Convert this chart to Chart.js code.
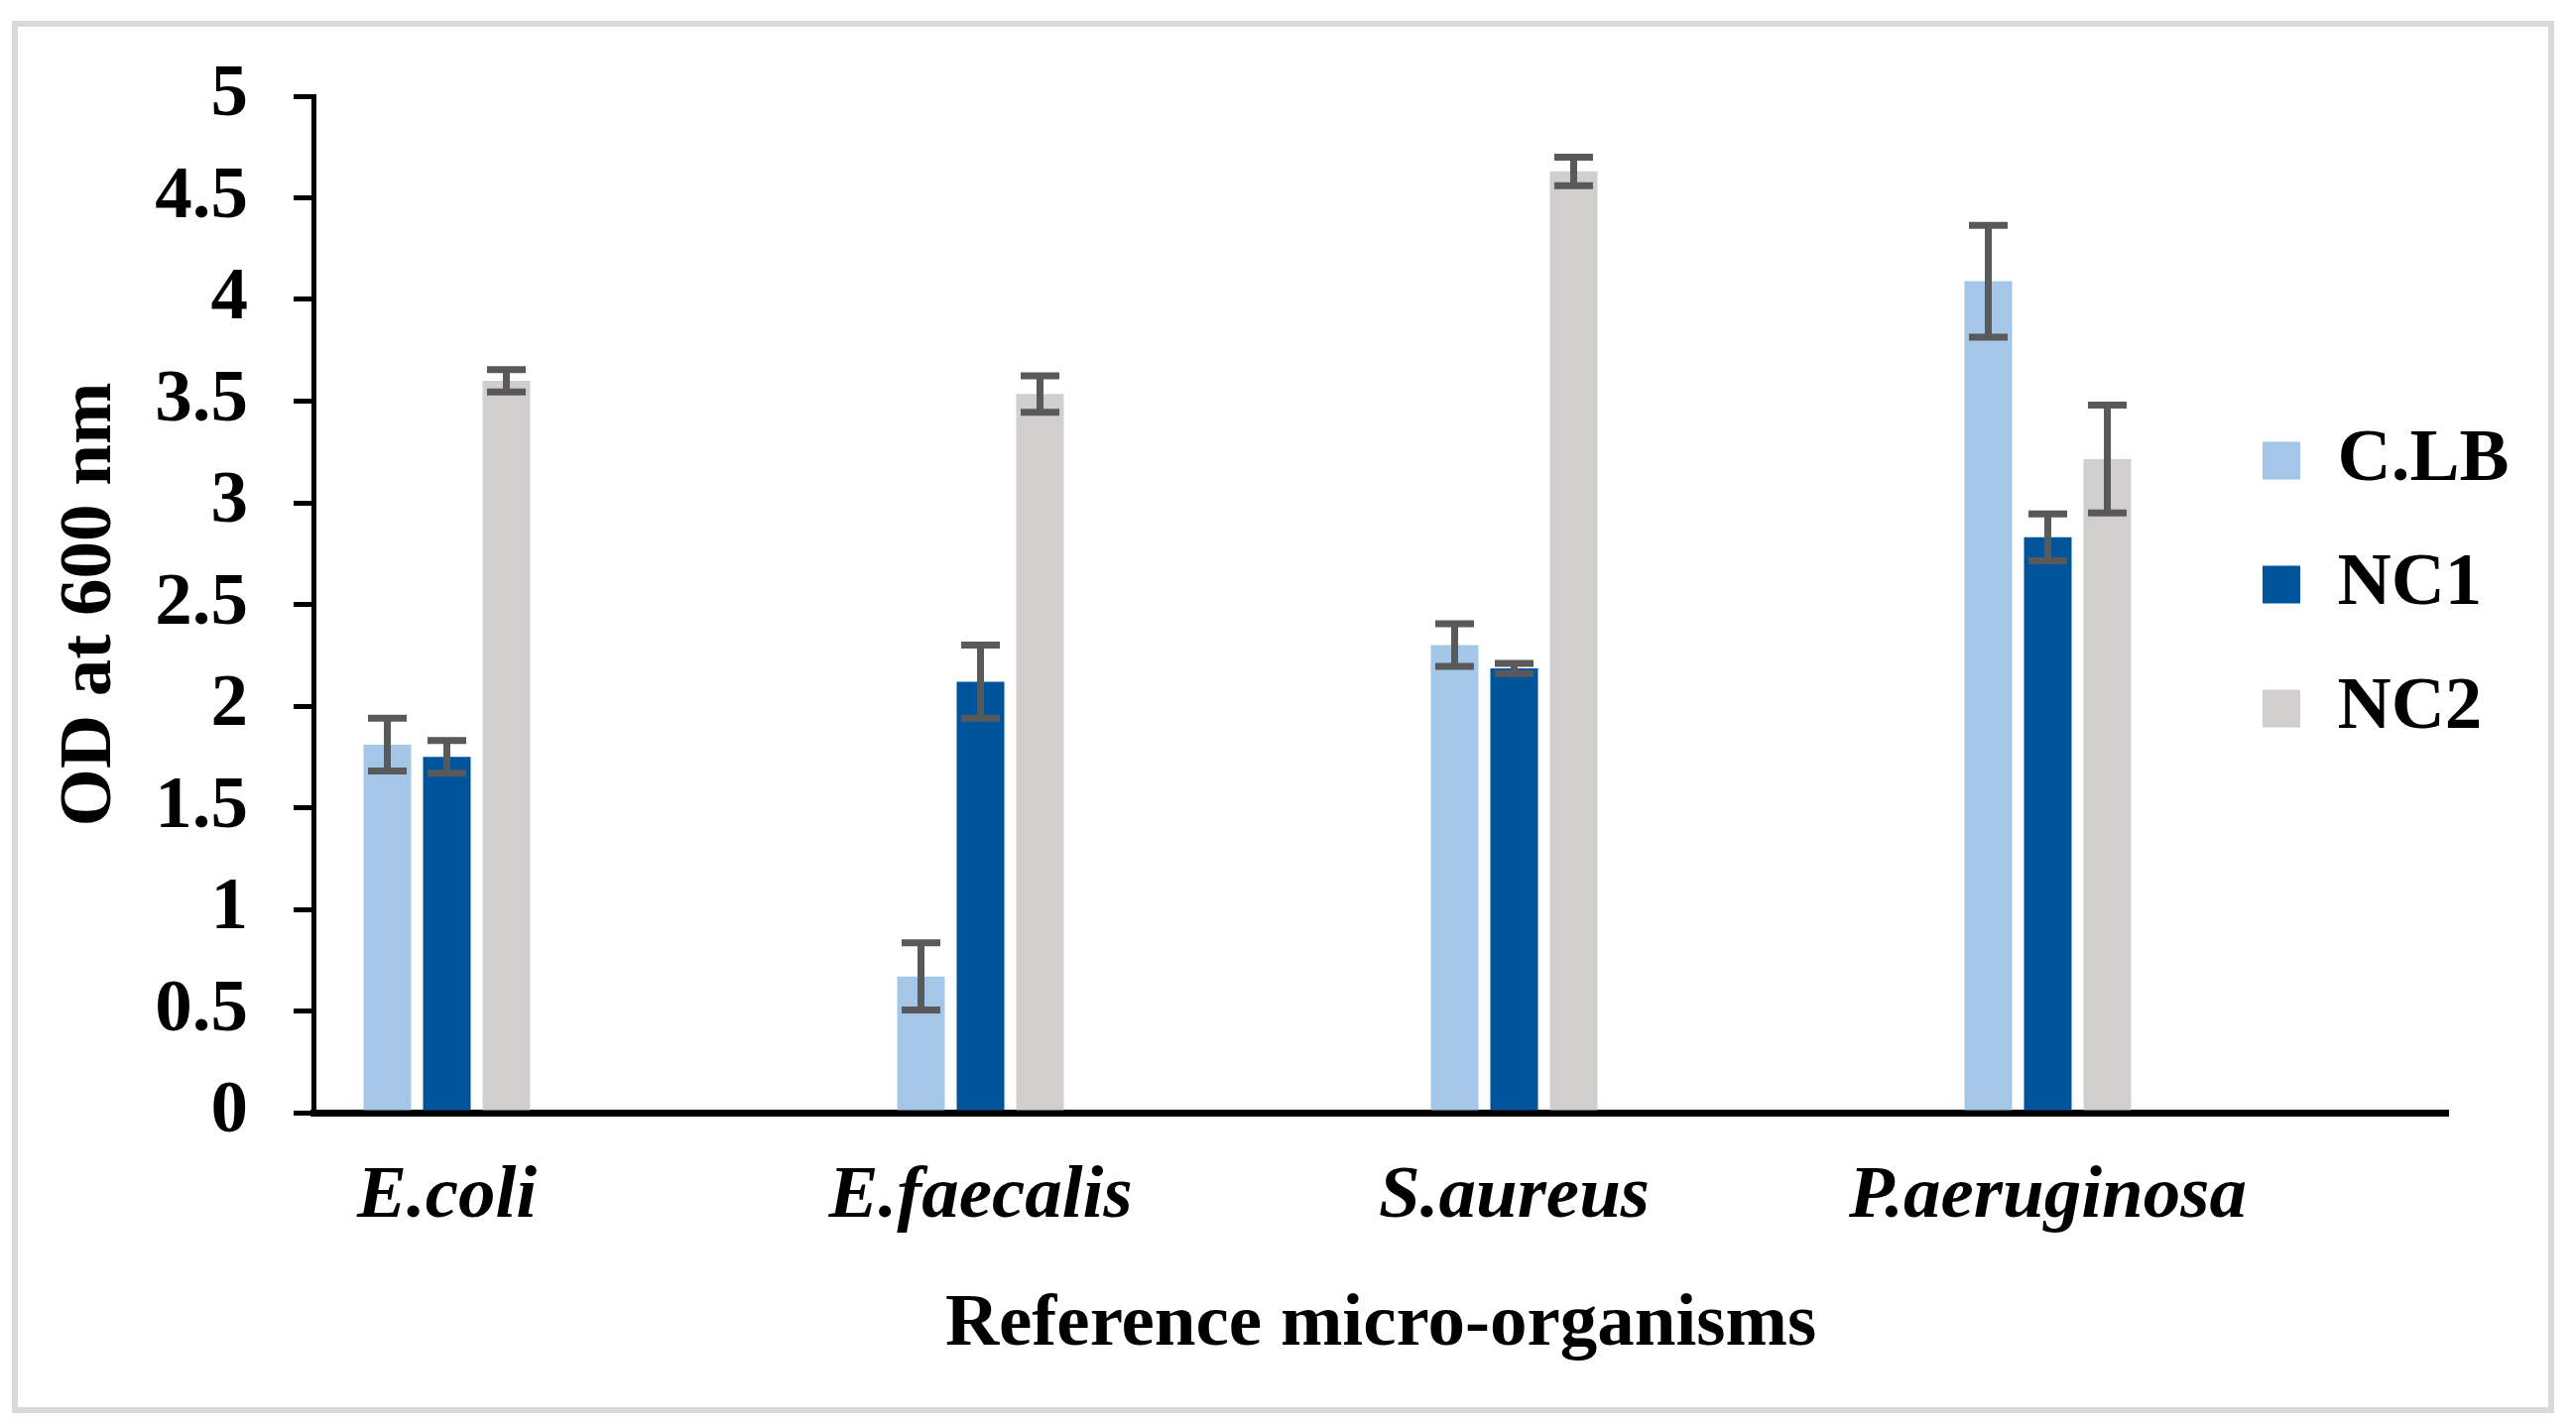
<!DOCTYPE html>
<html>
<head>
<meta charset="utf-8">
<title>OD at 600 nm</title>
<script src="https://cdn.jsdelivr.net/npm/chart.js@4.4.1/dist/chart.umd.min.js"></script>
<style>
    html, body { margin: 0; padding: 0; background: #fff; }
    #wrap { position: relative; width: 2597px; height: 1437px; }
    #odChart { position: absolute; left: 0; top: 0; width: 2597px; height: 1437px; }
    #frame {
        position: absolute; left: 12px; top: 21px; width: 2563px; height: 1404px;
        box-sizing: border-box; border: 6px solid #d9d9d9; pointer-events: none;
    }
</style>
</head>
<body>
<div id="wrap">
    <canvas id="odChart" width="2597" height="1437"></canvas>
    <div id="frame"></div>
</div>
<script>
// values
const categories = ['E.coli', 'E.faecalis', 'S.aureus', 'P.aeruginosa'];
const seriesNames = ['C.LB', 'NC1', 'NC2'];
const clbValues = [1.81, 0.67, 2.30, 4.09];
const clbErrors = [0.13, 0.165, 0.105, 0.275];
const nc1Values = [1.75, 2.12, 2.185, 2.83];
const nc1Errors = [0.08, 0.18, 0.025, 0.115];
const nc2Values = [3.60, 3.535, 4.63, 3.215];
const nc2Errors = [0.055, 0.09, 0.07, 0.265];
const yTicks = [0, 0.5, 1, 1.5, 2, 2.5, 3, 3.5, 4, 4.5, 5];
const yTickLabels = ['0', '0.5', '1', '1.5', '2', '2.5', '3', '3.5', '4', '4.5', '5'];

const colors = ['#a4c7e8', '#00549b', '#d0cfcd'];
const serif = "'Liberation Serif', 'Times New Roman', serif";

Chart.defaults.font.family = serif;
Chart.defaults.color = '#000';

function toPoints(values) {
    return values.map((v, i) => ({ x: i, y: v }));
}

const errorBars = {
    id: 'errorBars',
    afterDatasetsDraw(chart) {
        const ctx = chart.ctx;
        const y = chart.scales.y;
        ctx.save();
        ctx.strokeStyle = '#595959';
        ctx.lineWidth = 7;
        chart.data.datasets.forEach((ds, di) => {
            const meta = chart.getDatasetMeta(di);
            meta.data.forEach((bar, i) => {
                const v = ds.data[i].y;
                const e = ds.errors[i];
                const top = y.getPixelForValue(v + e);
                const bottom = y.getPixelForValue(v - e);
                ctx.beginPath();
                ctx.moveTo(bar.x, top);
                ctx.lineTo(bar.x, bottom);
                ctx.moveTo(bar.x - 19.5, top);
                ctx.lineTo(bar.x + 19.5, top);
                ctx.moveTo(bar.x - 19.5, bottom);
                ctx.lineTo(bar.x + 19.5, bottom);
                ctx.stroke();
            });
        });
        ctx.restore();
    }
};

// move the legend box to the right side of the plot
const legendSpot = {
    id: 'legendSpot',
    afterLayout(chart) {
        const lg = chart.legend;
        if (!lg) return;
        lg.left = 2231;
        lg.right = lg.left + lg.width;
        lg.top = 377;
        lg.bottom = chart.chartArea.bottom;
    }
};

const ctx = document.getElementById('odChart').getContext('2d');
const odChart = new Chart(ctx, {
    type: 'bar',
    data: {
        datasets: [
            { label: seriesNames[0], data: toPoints(clbValues), errors: clbErrors, backgroundColor: colors[0] },
            { label: seriesNames[1], data: toPoints(nc1Values), errors: nc1Errors, backgroundColor: colors[1] },
            { label: seriesNames[2], data: toPoints(nc2Values), errors: nc2Errors, backgroundColor: colors[2] }
        ]
    },
    options: {
        responsive: false,
        animation: false,
        devicePixelRatio: 1,
        categoryPercentage: 0.3346,
        barPercentage: 0.8,
        borderWidth: 0,
        layout: {
            padding: { left: 20, right: 129, top: 97, bottom: 15 }
        },
        plugins: {
            legend: {
                position: 'chartArea',
                align: 'start',
                labels: {
                    boxWidth: 38,
                    boxHeight: 38,
                    padding: 50,
                    color: '#000',
                    font: { size: 75, weight: 'bold', family: serif }
                }
            },
            tooltip: { enabled: false }
        },
        scales: {
            x: {
                type: 'linear',
                min: -0.25,
                max: 3.75,
                offset: false,
                z: 1,
                grid: { display: false, drawTicks: false },
                border: { display: true, width: 7, color: '#000' },
                afterBuildTicks: (scale) => {
                    scale.ticks = categories.map((c, i) => ({ value: i }));
                },
                afterFit: (scale) => { scale.height = 300; },
                ticks: {
                    padding: 41,
                    maxRotation: 0,
                    autoSkip: false,
                    color: '#000',
                    font: { size: 75, weight: 'bold', style: 'italic', family: serif },
                    callback: (value) => categories[value]
                },
                title: {
                    display: true,
                    text: 'Reference micro-organisms',
                    color: '#000',
                    padding: { top: 0, bottom: 40 },
                    font: { size: 75, weight: 'bold', family: serif }
                }
            },
            y: {
                min: 0,
                max: 5,
                grid: {
                    drawOnChartArea: false,
                    drawTicks: true,
                    tickLength: 20,
                    lineWidth: 5,
                    color: '#000'
                },
                border: { display: true, width: 5, color: '#000' },
                afterBuildTicks: (scale) => {
                    scale.ticks = yTicks.map(v => ({ value: v }));
                },
                afterFit: (scale) => { scale.width = 296; },
                ticks: {
                    padding: 46,
                    color: '#000',
                    font: { size: 75, weight: 'bold', family: serif },
                    callback: (value, index) => yTickLabels[index]
                },
                title: {
                    display: true,
                    text: 'OD at 600 nm',
                    color: '#000',
                    padding: { top: 27, bottom: 0 },
                    font: { size: 75, weight: 'bold', family: serif }
                }
            }
        }
    },
    plugins: [errorBars, legendSpot]
});
</script>
</body>
</html>
